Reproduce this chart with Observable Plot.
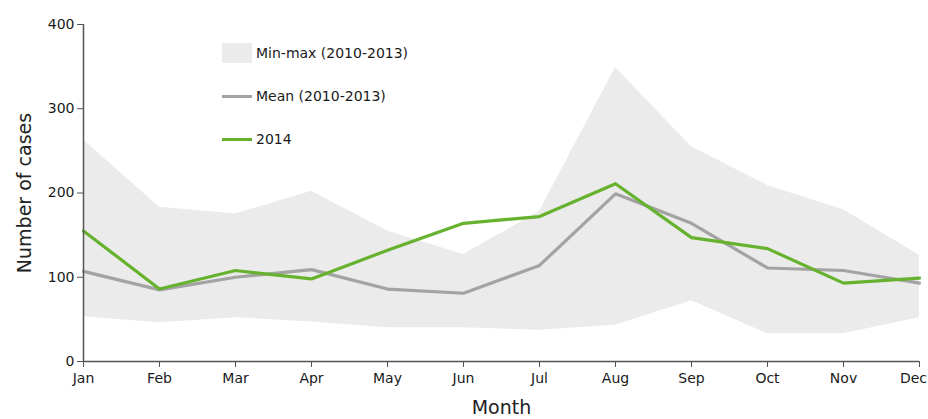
<!DOCTYPE html>
<html>
<head>
<meta charset="utf-8">
<script src="https://cdn.jsdelivr.net/npm/d3@7"></script>
<script src="https://cdn.jsdelivr.net/npm/@observablehq/plot@0.6"></script>
<style>
  html, body { margin: 0; padding: 0; background: #fff; }
  #wrap { position: relative; width: 928px; height: 419px; font-family: "DejaVu Sans", Verdana, sans-serif; }
  #wrap [aria-label="y-axis label"] text, #wrap [aria-label="x-axis label"] text { font-size: 19px; fill: #222; }
  #wrap [aria-label="y-axis tick label"] text, #wrap [aria-label="x-axis tick label"] text { font-size: 14px; fill: #1a1a1a; }
  .legend { position: absolute; left: 222px; top: 42px; font-size: 14px; color: #1a1a1a; }
  .legend .row { display: flex; align-items: center; height: 22px; margin-bottom: 21px; }
  .legend .sw { width: 30px; margin-right: 4px; }
</style>
</head>
<body>
<div id="wrap"></div>
<script>
const months = ["Jan","Feb","Mar","Apr","May","Jun","Jul","Aug","Sep","Oct","Nov","Dec"];
const minValues = [53, 46, 52, 47, 40, 40, 37, 43, 72, 33, 33, 52];
const maxValues = [263, 183, 175, 202, 155, 127, 178, 349, 255, 209, 180, 126];
const meanValues = [107, 85, 100, 109, 86, 81, 114, 199, 164, 111, 108, 93];
const values2014 = [155, 86, 108, 98, 132, 164, 172, 211, 147, 134, 93, 99];
const yTicks = [0, 100, 200, 300, 400];
const legendLabels = ["Min-max (2010-2013)", "Mean (2010-2013)", "2014"];

const colors = { band: "#ebebeb", mean: "#a3a3a3", y2014: "#66b22e" };

const rows = months.map((m, i) => ({
  month: m, min: minValues[i], max: maxValues[i], mean: meanValues[i], v2014: values2014[i]
}));

const chart = Plot.plot({
  width: 928,
  height: 419,
  marginLeft: 83,
  marginRight: 9,
  marginTop: 24,
  marginBottom: 58,
  style: { fontFamily: "DejaVu Sans, Verdana, sans-serif", fontSize: "14px", color: "#1a1a1a", background: "white" },
  x: { type: "point", domain: months, padding: 0 },
  y: { domain: [0, 400] },
  marks: [
    Plot.areaY(rows, { x: "month", y1: "min", y2: "max", fill: colors.band }),
    Plot.lineY(rows, { x: "month", y: "mean", stroke: colors.mean, strokeWidth: 3.2 }),
    Plot.lineY(rows, { x: "month", y: "v2014", stroke: colors.y2014, strokeWidth: 3.2 }),
    Plot.ruleY([0], { stroke: "#555", strokeWidth: 1.5 }),
    Plot.ruleX([months[0]], { y1: 0, y2: 400, stroke: "#555", strokeWidth: 1.5 }),
    Plot.axisY({ ticks: yTicks, tickSize: 6, tickPadding: 3, fontSize: 14, stroke: "#555", label: "Number of cases", labelAnchor: "center", labelArrow: "none", labelOffset: 66 }),
    Plot.axisX({ tickSize: 6, tickPadding: 6, fontSize: 14, stroke: "#555", label: "Month", labelAnchor: "center", labelArrow: "none", labelOffset: 52 })
  ]
});
document.getElementById("wrap").appendChild(chart);

// keep the last month label inside the picture
d3.select(chart).selectAll('[aria-label="x-axis tick label"] text')
  .filter((d, i, n) => i === n.length - 1)
  .attr("dx", -6);

const swatches = [
  `<div class="sw" style="height:20px;background:${colors.band}"></div>`,
  `<div class="sw" style="height:3px;background:${colors.mean}"></div>`,
  `<div class="sw" style="height:3px;background:${colors.y2014}"></div>`
];
const legend = document.createElement("div");
legend.className = "legend";
legend.innerHTML = legendLabels.map((l, i) => `<div class="row">${swatches[i]}<span>${l}</span></div>`).join("");
document.getElementById("wrap").appendChild(legend);
</script>
</body>
</html>
